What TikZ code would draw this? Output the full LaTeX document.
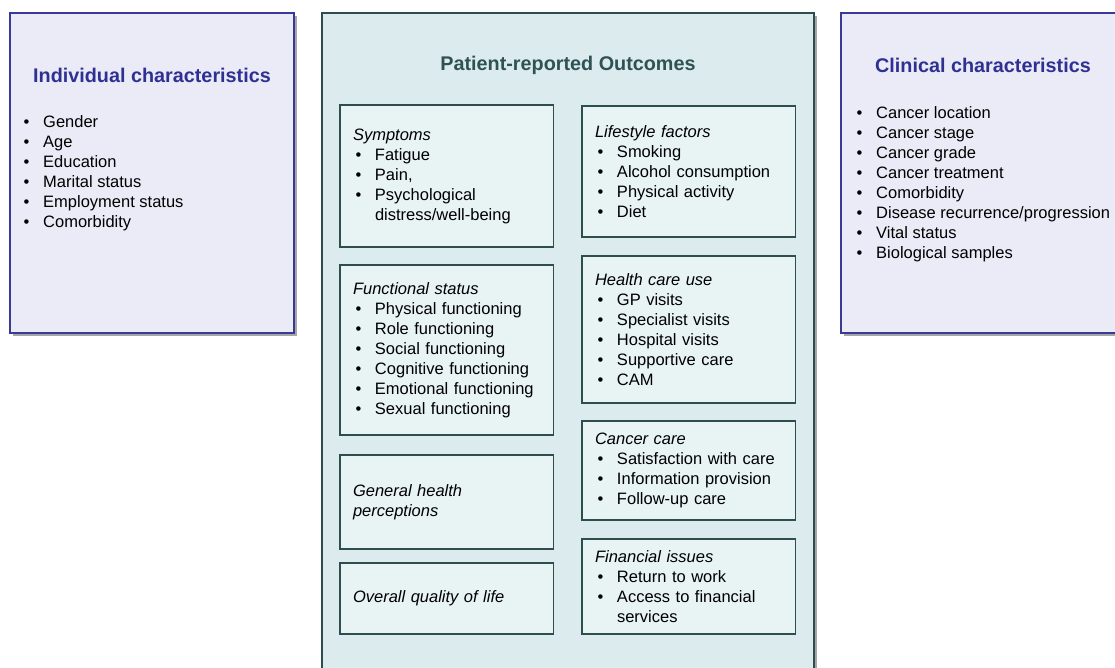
\documentclass[tikz,border=0pt]{standalone}
\usepackage{fontspec}
\setmainfont{Liberation Sans}
\usetikzlibrary{shadows}

\definecolor{sideline}{HTML}{3A3A96}
\definecolor{sidefill}{HTML}{EBEBF8}
\definecolor{sidetitlecol}{HTML}{2E3192}
\definecolor{tealline}{HTML}{2E4D4D}
\definecolor{tealfill}{HTML}{DCECEE}
\definecolor{innerfill}{HTML}{E8F3F4}
\definecolor{tealtitlecol}{HTML}{2F5252}

\newcommand{\bul}[1]{\makebox[22pt][l]{\hspace{2.5pt}\textbullet}#1}
\newcommand{\hang}[1]{\hspace*{22pt}#1}

\tikzset{
    boxshadow/.style={drop shadow={shadow xshift=2.5pt, shadow yshift=-2.5pt, opacity=0.35, fill=black}},
    sidebox/.style={draw=sideline, fill=sidefill, line width=2pt, anchor=north west, outer sep=0pt, boxshadow},
    midbox/.style={draw=tealline, fill=tealfill, line width=2pt, anchor=north west, outer sep=0pt, boxshadow},
    innerbox/.style={draw=tealline, fill=innerfill, line width=1.7pt, anchor=north west, outer sep=0pt,
        text width=187.5pt, inner xsep=13pt, inner ysep=0pt, align=left,
        font=\fontsize{16.5}{20}\selectfont},
    listtext/.style={anchor=north west, inner sep=0pt, align=left, font=\fontsize{16.5}{20}\selectfont},
    boxtitle/.style={anchor=base, inner sep=0pt, font=\fontsize{19.8}{24}\selectfont\bfseries}
}

\begin{document}
\begin{tikzpicture}[x=1pt, y=-1pt]
    \useasboundingbox (0,0) rectangle (1115,667);
    \clip (0,0) rectangle (1115,667);

    % left box
    \node[sidebox, minimum width=284pt, minimum height=320pt] (indiv) at (10,13) {};
    \node[boxtitle, text=sidetitlecol] (indivtitle) at (152,82) {Individual characteristics};
    \node[listtext] (indivlist) at (21,115) {\bul{Gender}\\ \bul{Age}\\ \bul{Education}\\
        \bul{Marital status}\\ \bul{Employment status}\\ \bul{Comorbidity}};

    % right box
    \node[sidebox, minimum width=290pt, minimum height=320pt] (clin) at (841,13) {};
    \node[boxtitle, text=sidetitlecol] (clintitle) at (983,72) {Clinical characteristics};
    \node[listtext] (clinlist) at (854,106) {\bul{Cancer location}\\ \bul{Cancer stage}\\
        \bul{Cancer grade}\\ \bul{Cancer treatment}\\ \bul{Comorbidity}\\
        \bul{Disease recurrence/progression}\\ \bul{Vital status}\\ \bul{Biological samples}};

    % middle box
    \node[midbox, minimum width=492pt, minimum height=680pt] (pro) at (322,13) {};
    \node[boxtitle, text=tealtitlecol] (protitle) at (568,70) {Patient-reported Outcomes};

    % left column
    \node[innerbox, minimum height=142pt] (symp) at (340,105) {\textit{Symptoms}\\
        \bul{Fatigue}\\ \bul{Pain,}\\ \bul{Psychological}\\ \hang{distress/well-being}};
    \node[innerbox, minimum height=170pt] (func) at (340,265) {\textit{Functional status}\\
        \bul{Physical functioning}\\ \bul{Role functioning}\\ \bul{Social functioning}\\
        \bul{Cognitive functioning}\\ \bul{Emotional functioning}\\ \bul{Sexual functioning}};
    \node[innerbox, minimum height=94pt] (genhealth) at (340,455) {\textit{General health}\\
        \textit{perceptions}};
    \node[innerbox, minimum height=71pt] (qol) at (340,563) {\textit{Overall quality of life}};

    % right column
    \node[innerbox, minimum height=131pt] (life) at (582,106) {\textit{Lifestyle factors}\\
        \bul{Smoking}\\ \bul{Alcohol consumption}\\ \bul{Physical activity}\\ \bul{Diet}};
    \node[innerbox, minimum height=147pt] (hcu) at (582,256) {\textit{Health care use}\\
        \bul{GP visits}\\ \bul{Specialist visits}\\ \bul{Hospital visits}\\
        \bul{Supportive care}\\ \bul{CAM}};
    \node[innerbox, minimum height=99pt] (ccare) at (582,421) {\textit{Cancer care}\\
        \bul{Satisfaction with care}\\ \bul{Information provision}\\ \bul{Follow-up care}};
    \node[innerbox, minimum height=95pt] (fin) at (582,539) {\textit{Financial issues}\\
        \bul{Return to work}\\ \bul{Access to financial}\\ \hang{services}};
\end{tikzpicture}
\end{document}
